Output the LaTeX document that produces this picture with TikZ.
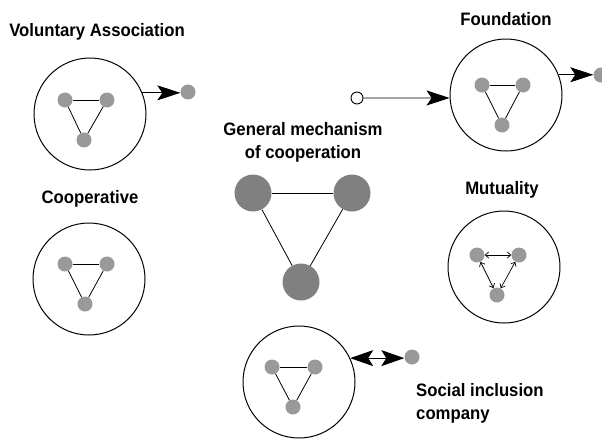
\documentclass[tikz,border=0pt]{standalone}
\usepackage{fontspec}
\setmainfont{Liberation Sans}[FakeStretch=0.93]
\usetikzlibrary{arrows.meta}
\definecolor{dotgray}{RGB}{153,153,153}
\definecolor{biggray}{RGB}{128,128,128}
\tikzset{
  lbl/.style={font=\fontsize{18}{23}\selectfont\bfseries, align=center, inner sep=0pt},
  org/.style={circle, draw, line width=1pt, minimum size=112pt, inner sep=0pt},
  sdot/.style={circle, fill=dotgray, minimum size=15pt, inner sep=0pt},
  bdot/.style={circle, fill=biggray, minimum size=37pt, inner sep=0pt},
  link/.style={line width=0.8pt},
  bigarrow/.style={line width=0.9pt, -{Stealth[length=23pt,width=15pt,inset=5pt]}},
  bothbig/.style={line width=0.9pt, {Stealth[length=23pt,width=16pt,inset=5pt]}-{Stealth[length=23pt,width=16pt,inset=5pt]}},
  smallboth/.style={line width=0.7pt, {Straight Barb[length=3.5pt,width=6pt]}-{Straight Barb[length=3.5pt,width=6pt]}},
}
\begin{document}
\begin{tikzpicture}[x=1pt,y=-1pt]
\useasboundingbox (0,0) rectangle (602,440);

% Voluntary Association
\node[lbl] (valbl) at (97,32) {Voluntary Association};
\node[org] (va) at (90,114) {};
\node[sdot] (va1) at (65,100) {};
\node[sdot] (va2) at (107,100) {};
\node[sdot] (va3) at (84,140) {};
\draw[link] (va1) -- (va2);
\draw[link] (va2) -- (va3);
\draw[link] (va3) -- (va1);
\node[sdot] (vadot) at (188,92) {};
\draw[bigarrow] (va.22) -- (va.22 -| vadot.west);

% Foundation
\node[lbl] (fdlbl) at (506,19) {Foundation};
\node[org] (fd) at (506,95) {};
\node[sdot] (fd1) at (482,85) {};
\node[sdot] (fd2) at (523,85) {};
\node[sdot] (fd3) at (502,125) {};
\draw[link] (fd1) -- (fd2);
\draw[link] (fd2) -- (fd3);
\draw[link] (fd3) -- (fd1);
\node[sdot] (fddot) at (601,75) {};
\draw[bigarrow] (fd.21) -- (fd.21 -| fddot.west);
\node[circle, draw, fill=white, line width=0.9pt, minimum size=12pt, inner sep=0pt] (oc) at (357,98) {};
\draw[bigarrow] (oc.east) -- (fd.183);

% Cooperative
\node[lbl] (colbl) at (90,199) {Cooperative};
\node[org] (co) at (89,279) {};
\node[sdot] (co1) at (65,264) {};
\node[sdot] (co2) at (107,264) {};
\node[sdot] (co3) at (85,304) {};
\draw[link] (co1) -- (co2);
\draw[link] (co2) -- (co3);
\draw[link] (co3) -- (co1);

% General mechanism
\node[lbl] (gmlbl) at (303,142) {General mechanism\\of cooperation};
\node[bdot] (gm1) at (253,193) {};
\node[bdot] (gm2) at (352,193) {};
\node[bdot] (gm3) at (301,282) {};
\draw[link] (gm1) -- (gm2);
\draw[link] (gm2) -- (gm3);
\draw[link] (gm3) -- (gm1);

% Mutuality
\node[lbl] (mulbl) at (502,190) {Mutuality};
\node[org] (mu) at (504,267) {};
\node[sdot] (mu1) at (477,255) {};
\node[sdot] (mu2) at (519,255) {};
\node[sdot] (mu3) at (497,295) {};
\draw[smallboth] (mu1) -- (mu2);
\draw[smallboth] (mu2) -- (mu3);
\draw[smallboth] (mu3) -- (mu1);

% Social inclusion company
\node[org] (si) at (299,382) {};
\node[sdot] (si1) at (272,367) {};
\node[sdot] (si2) at (315,367) {};
\node[sdot] (si3) at (293,407) {};
\draw[link] (si1) -- (si2);
\draw[link] (si2) -- (si3);
\draw[link] (si3) -- (si1);
\node[sdot] (sidot) at (412,357) {};
\draw[bothbig] (si.25) -- (si.25 -| sidot.west);
\node[lbl, align=left, anchor=north west] (silbl) at (416,383) {Social inclusion\\company};
\end{tikzpicture}
\end{document}
